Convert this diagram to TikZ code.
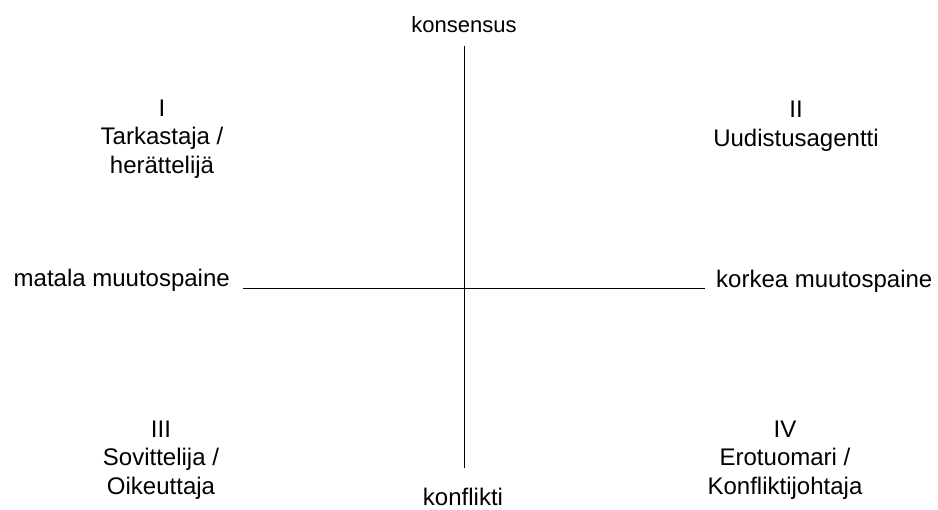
\documentclass[tikz,border=0pt]{standalone}
\usepackage{fontspec}
\setmainfont{Liberation Sans}
\usetikzlibrary{positioning}

\begin{document}
\begin{tikzpicture}[x=1pt, y=-1pt,
    every node/.style={font=\fontsize{24}{28.5}\selectfont, inner sep=0pt},
    quad/.style={align=center}]
    \useasboundingbox (0,0) rectangle (938,510);

    % Define the ends of the axes
    \coordinate (top) at (464,46);
    \coordinate (bottom) at (464,468);
    \coordinate (left) at (243,288);
    \coordinate (right) at (705,288);

    % Draw the axes
    \draw (top) -- (bottom);
    \draw (left) -- (right);

    % Axis labels
    \node[anchor=base, font=\fontsize{22}{26}\selectfont] (kons) at (464,33) {konsensus};
    \node[anchor=base] (konf) at (463,506) {konflikti};
    \node[anchor=base east] (matala) at (230,287) {matala muutospaine};
    \node[anchor=base west] (korkea) at (716,288) {korkea muutospaine};

    % Quadrant labels
    \node[quad] (q1) at (162,139) {I\\Tarkastaja /\\herättelijä};
    \node[quad] (q2) at (796,126) {II\\Uudistusagentti};
    \node[quad] (q3) at (161,460) {III\\Sovittelija /\\Oikeuttaja};
    \node[quad] (q4) at (785,460) {IV\\Erotuomari /\\Konfliktijohtaja};
\end{tikzpicture}
\end{document}
